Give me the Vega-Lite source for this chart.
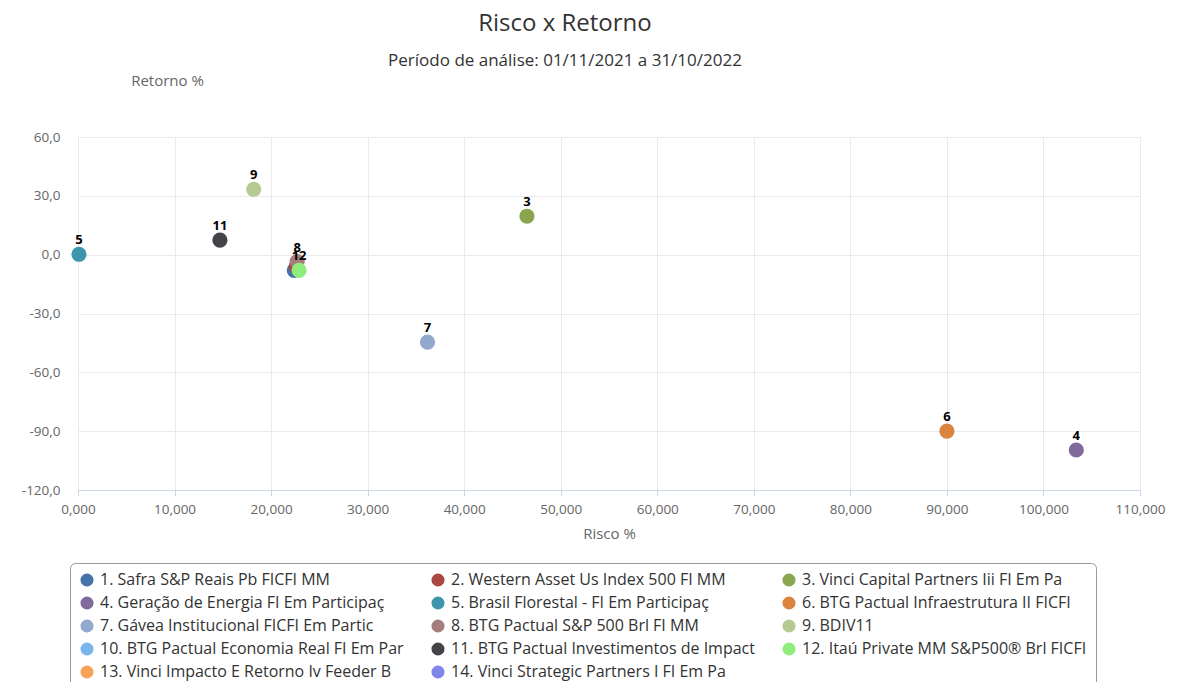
{
  "$schema": "https://vega.github.io/schema/vega-lite/v6.json",
  "width": 1062,
  "height": 353,
  "autosize": {"type": "none"},
  "padding": {"left": 78, "top": 137, "right": 48, "bottom": 192},
  "config": {
    "locale": {"number": {"decimal": ",", "thousands": ".", "grouping": [3], "currency": ["R$", ""], "minus": "-"}},
    "font": "Open Sans",
    "view": {"stroke": null},
    "axis": {
      "labelFont": "Open Sans", "labelFontSize": 13.5, "labelColor": "#666666",
      "titleFont": "Open Sans", "titleFontWeight": "normal", "titleColor": "#666666", "titleFontSize": 15,
      "gridColor": "#e9e9ee", "domain": false, "ticks": false
    }
  },
  "title": {
    "text": "Risco x Retorno",
    "subtitle": "Período de análise: 01/11/2021 a 31/10/2022",
    "fontSize": 24, "fontWeight": "normal", "color": "#333333", "font": "Open Sans",
    "subtitleFontSize": 17, "subtitleColor": "#333333", "subtitleFont": "Open Sans",
    "anchor": "middle", "frame": "group", "dx": -44, "offset": 4, "subtitlePadding": 17
  },
  "data": {
    "values": [
      {"n": 1, "fundo": "1. Safra S&P Reais Pb FICFI MM", "risco": 22.4, "retorno": -8.0},
      {"n": 2, "fundo": "2. Western Asset Us Index 500 FI MM", "risco": 22.6, "retorno": -6.0},
      {"n": 3, "fundo": "3. Vinci Capital Partners Iii FI Em Pa", "risco": 46.5, "retorno": 19.6},
      {"n": 4, "fundo": "4. Geração de Energia FI Em Participaç", "risco": 103.4, "retorno": -99.6},
      {"n": 5, "fundo": "5. Brasil Florestal - FI Em Participaç", "risco": 0.1, "retorno": 0.2},
      {"n": 6, "fundo": "6. BTG Pactual Infraestrutura II FICFI", "risco": 90.0, "retorno": -90.0},
      {"n": 7, "fundo": "7. Gávea Institucional FICFI Em Partic", "risco": 36.2, "retorno": -44.6},
      {"n": 8, "fundo": "8. BTG Pactual S&P 500 Brl FI MM", "risco": 22.7, "retorno": -3.5},
      {"n": 9, "fundo": "9. BDIV11", "risco": 18.2, "retorno": 33.3},
      {"n": 11, "fundo": "11. BTG Pactual Investimentos de Impact", "risco": 14.7, "retorno": 7.4},
      {"n": 12, "fundo": "12. Itaú Private MM S&P500® Brl FICFI", "risco": 22.9, "retorno": -8.0}
    ]
  },
  "layer": [
    {
      "mark": {"type": "circle", "size": 230, "opacity": 1},
      "encoding": {
        "x": {
          "field": "risco", "type": "quantitative",
          "scale": {"domain": [0, 110], "nice": false, "zero": false},
          "axis": {
            "title": "Risco %", "values": [0, 10, 20, 30, 40, 50, 60, 70, 80, 90, 100, 110], "format": ".3f",
            "domain": true, "domainColor": "#ccd6eb", "ticks": true, "tickColor": "#ccd6eb", "tickSize": 6,
            "labelPadding": 6, "labelFlush": false, "titlePadding": 11
          }
        },
        "y": {
          "field": "retorno", "type": "quantitative",
          "scale": {"domain": [-120, 60], "nice": false, "zero": false},
          "axis": {
            "title": "Retorno %", "values": [-120, -90, -60, -30, 0, 30, 60], "format": ".1f",
            "labelPadding": 18, "titleAngle": 0, "titleX": 89, "titleY": -57,
            "titleAlign": "center", "titleBaseline": "middle"
          }
        },
        "color": {
          "field": "fundo", "type": "nominal",
          "scale": {
            "domain": [
              "1. Safra S&P Reais Pb FICFI MM",
              "4. Geração de Energia FI Em Participaç",
              "7. Gávea Institucional FICFI Em Partic",
              "10. BTG Pactual Economia Real FI Em Par",
              "13. Vinci Impacto E Retorno Iv Feeder B",
              "2. Western Asset Us Index 500 FI MM",
              "5. Brasil Florestal - FI Em Participaç",
              "8. BTG Pactual S&P 500 Brl FI MM",
              "11. BTG Pactual Investimentos de Impact",
              "14. Vinci Strategic Partners I FI Em Pa",
              "3. Vinci Capital Partners Iii FI Em Pa",
              "6. BTG Pactual Infraestrutura II FICFI",
              "9. BDIV11",
              "12. Itaú Private MM S&P500® Brl FICFI"
            ],
            "range": ["#4572A7", "#80699B", "#92A8CD", "#7cb5ec", "#f7a35c", "#AA4643", "#3D96AE", "#A47D7C", "#434348", "#8085e9", "#89A54E", "#DB843D", "#B5CA92", "#90ed7d"]
          },
          "legend": {
            "title": null, "orient": "none", "legendX": -8, "legendY": 426,
            "columns": 3, "gridAlign": "all", "columnPadding": 26, "rowPadding": 7,
            "symbolType": "circle", "symbolSize": 170, "symbolStrokeWidth": 0, "symbolOffset": 0,
            "labelFont": "Open Sans", "labelFontSize": 16, "labelColor": "#333333", "labelLimit": 400, "labelOffset": 5,
            "strokeColor": "#999999", "cornerRadius": 5, "padding": 9
          }
        }
      }
    },
    {
      "transform": [{"filter": "datum.n != 1 && datum.n != 2"}],
      "mark": {"type": "text", "dy": -14, "fontWeight": "bold", "fontSize": 13, "color": "#000000", "font": "Open Sans"},
      "encoding": {
        "x": {"field": "risco", "type": "quantitative"},
        "y": {"field": "retorno", "type": "quantitative"},
        "text": {"field": "n", "type": "nominal"}
      }
    }
  ]
}
